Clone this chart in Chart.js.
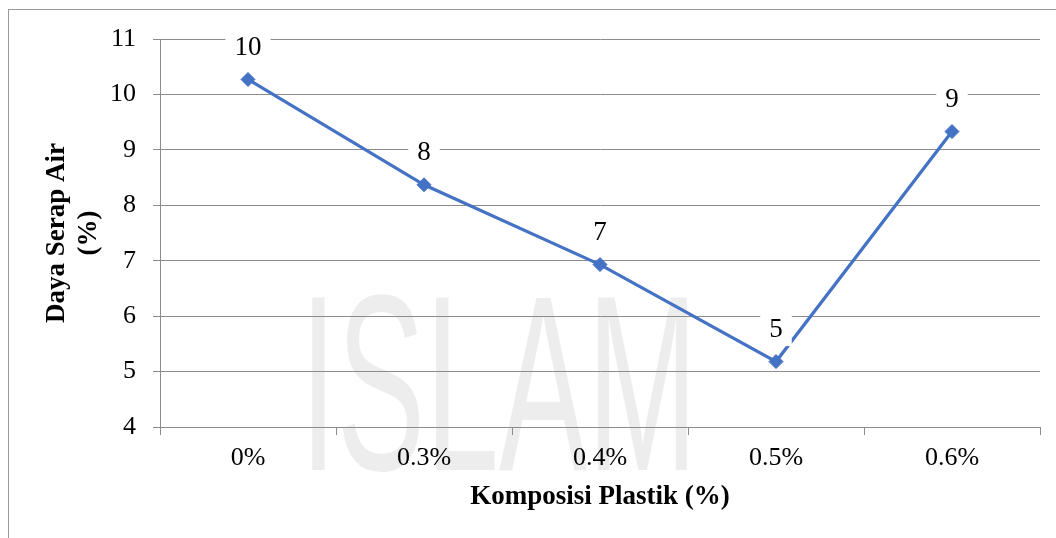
<!DOCTYPE html>
<html><head><meta charset="utf-8">
<script src="https://cdn.jsdelivr.net/npm/chart.js@4/dist/chart.umd.min.js"></script>
<style>html,body{margin:0;padding:0;background:#fff;}#wrap{width:1056px;height:538px;}</style>
</head><body><div id="wrap"><canvas id="c" width="1056" height="538"></canvas></div>
<script>
const categories = ['0%', '0.3%', '0.4%', '0.5%', '0.6%'];
const values = [10.27, 8.37, 6.93, 5.18, 9.33];
const pointLabels = ['10', '8', '7', '5', '9'];
const yMin = 4, yMax = 11, yStep = 1;
const xTitle = 'Komposisi Plastik (%)';
const yTitle = ['Daya Serap Air', '(%)'];

const SERIF = '"Liberation Serif", "Times New Roman", serif';
const GRID = '#8c8c8c';

const backdrop = {
  id: 'backdrop',
  beforeDraw(chart) {
    const ctx = chart.ctx;
    ctx.save();
    ctx.fillStyle = '#fff';
    ctx.fillRect(0, 0, chart.width, chart.height);
    // faint watermark
    ctx.fillStyle = 'rgba(0,0,0,0.07)';
    ctx.font = '250px "Liberation Sans", Arial, sans-serif';
    ctx.textBaseline = 'alphabetic';
    ctx.translate(300, 470);
    ctx.scale(0.53, 1);
    ctx.fillText('ISLAM', 0, 0);
    ctx.restore();
    ctx.save();
    ctx.strokeStyle = '#9a9a9a';
    ctx.lineWidth = 1;
    ctx.strokeRect(8.5, 9.5, 1200, 700);
    ctx.restore();
  }
};

const valueLabels = {
  id: 'valueLabels',
  afterDatasetsDraw(chart) {
    const ctx = chart.ctx;
    const meta = chart.getDatasetMeta(0);
    ctx.save();
    ctx.font = '27px ' + SERIF;
    ctx.textAlign = 'center';
    ctx.textBaseline = 'middle';
    meta.data.forEach((pt, i) => {
      const t = pointLabels[i];
      const w = ctx.measureText(t).width + 18;
      const h = 32;
      const cx = pt.x, cy = pt.y - 31.5;
      ctx.fillStyle = '#fff';
      ctx.fillRect(cx - w / 2, cy - h / 2, w, h);
      ctx.fillStyle = '#000';
      ctx.fillText(t, cx, cy);
    });
    ctx.restore();
  }
};

new Chart(document.getElementById('c'), {
  type: 'line',
  data: {
    labels: categories,
    datasets: [{
      data: values,
      borderColor: '#4472C4',
      backgroundColor: '#4472C4',
      borderWidth: 3.2,
      pointStyle: 'rectRot',
      pointRadius: 7,
      pointBorderWidth: 1,
      pointBackgroundColor: '#4472C4',
      pointBorderColor: '#4472C4',
      tension: 0,
      fill: false
    }]
  },
  options: {
    responsive: false,
    devicePixelRatio: 1,
    animation: false,
    layout: { padding: { left: 0, right: 16, top: 39, bottom: 0 } },
    plugins: { legend: { display: false }, tooltip: { enabled: false }, title: { display: false } },
    scales: {
      x: {
        type: 'category',
        offset: true,
        grid: { offset: true, drawOnChartArea: false, drawTicks: true, tickLength: 8, color: GRID, lineWidth: 1 },
        border: { color: GRID, width: 1 },
        ticks: { color: '#000', font: { family: SERIF, size: 26 }, padding: 8, maxRotation: 0, autoSkip: false },
        title: { display: true, text: xTitle, color: '#000', font: { family: SERIF, size: 27, weight: 'bold', lineHeight: 1.2 }, padding: { top: 0, bottom: 25 } },
        afterFit(s) { s.height = 111; }
      },
      y: {
        min: yMin, max: yMax,
        grid: { color: GRID, lineWidth: 1, tickLength: 7 },
        border: { color: GRID, width: 1 },
        ticks: { stepSize: yStep, color: '#000', font: { family: SERIF, size: 26 }, padding: 17 },
        title: { display: true, text: yTitle, color: '#000', font: { family: SERIF, size: 27, weight: 'bold', lineHeight: 1.15 }, padding: { top: 42, bottom: 0 } },
        afterFit(s) { s.width = 160; }
      }
    }
  },
  plugins: [backdrop, valueLabels]
});
</script>
</body></html>
